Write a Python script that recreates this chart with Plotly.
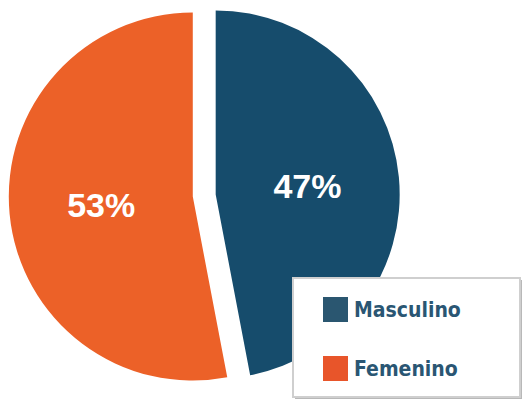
import plotly.graph_objects as go

labels = ["Masculino", "Femenino"]
values = [47, 53]
colors = ["#164c6c", "#ec6128"]
legend_square_colors = ["#2a5670", "#e8552a"]

W, H = 523, 401

fig = go.Figure(go.Pie(
    labels=labels,
    values=values,
    marker=dict(colors=colors, line=dict(width=0)),
    sort=False,
    direction="clockwise",
    rotation=0,
    pull=[0.0625, 0.0625],
    textinfo="percent",
    texttemplate="%{percent:.0%}",
    textposition="inside",
    insidetextorientation="horizontal",
    insidetextfont=dict(family="Liberation Sans", size=34, color="white", weight="bold"),
    domain=dict(x=[0.0167, 0.7643], y=[0.0249, 1.0]),
    hoverinfo="label+percent",
    showlegend=False,
))

def px(x):
    return x / W

def py(y):
    return 1 - y / H

# legend frame (shadow + box)
fig.add_shape(type="rect", xref="paper", yref="paper",
              x0=px(295), x1=px(522), y0=py(399), y1=py(280),
              fillcolor="#b8b8b8", line=dict(width=0), layer="above")
fig.add_shape(type="rect", xref="paper", yref="paper",
              x0=px(293), x1=px(520), y0=py(397), y1=py(278),
              fillcolor="white", line=dict(color="#cfcfcf", width=2), layer="above")

legend_font = dict(family="Liberation Sans Narrow, DejaVu Sans Condensed, Liberation Sans",
                   size=21, color="#2a5673", weight="bold")
for i, (lab, col) in enumerate(zip(labels, legend_square_colors)):
    top = 297 + i * 59
    fig.add_shape(type="rect", xref="paper", yref="paper",
                  x0=px(323), x1=px(348), y0=py(top + 25), y1=py(top),
                  fillcolor=col, line=dict(width=0), layer="above")
    fig.add_annotation(xref="paper", yref="paper", x=px(352), y=py(top + 12.5),
                       xanchor="left", yanchor="middle", text=lab, showarrow=False,
                       font=legend_font)

fig.update_layout(
    width=W, height=H,
    margin=dict(l=0, r=0, t=0, b=0),
    paper_bgcolor="white",
    plot_bgcolor="white",
    showlegend=False,
)

fig.write_html("out.html", config={"displayModeBar": False},
               post_script="document.body.style.margin='0px';")
